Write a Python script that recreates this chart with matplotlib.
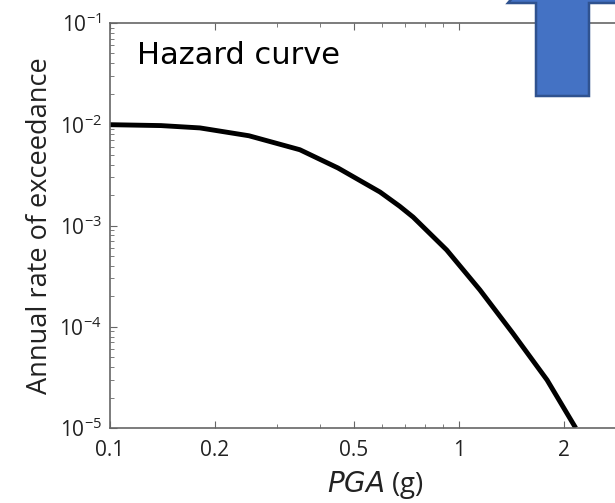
import matplotlib
matplotlib.use("Agg")
from matplotlib import pyplot as plt
from matplotlib import ticker
from matplotlib.patches import Polygon

# hazard curve
pga = [0.1, 0.14, 0.181, 0.25, 0.35, 0.45, 0.594, 0.676, 0.739, 0.922, 1.148, 1.425, 1.788, 2.16]
rate = [0.0099, 0.0097, 0.0092, 0.0077, 0.0056, 0.0037, 0.00214, 0.00155, 0.00121, 0.000573,
        0.000231, 8.67e-5, 2.98e-5, 1.0e-5]

xticks = [0.1, 0.2, 0.5, 1, 2]
xticklabels = ['0.1', '0.2', '0.5', '1', '2']

W, H = 615, 503
fig = plt.figure(figsize=(W/100, H/100), dpi=100)

left, right, top, bottom = 110, 625.5, 23, 428
ax = fig.add_axes([left/W, 1 - bottom/H, (right-left)/W, (bottom-top)/H])

ax.plot(pga, rate, color='black', lw=3.5, solid_capstyle='butt', solid_joinstyle='round')

ax.set_xscale('log')
ax.set_yscale('log')
ax.set_xlim(0.1, 3)
ax.set_ylim(1e-5, 1e-1)

ax.xaxis.set_major_locator(ticker.FixedLocator(xticks))
ax.xaxis.set_major_formatter(ticker.FixedFormatter(xticklabels))
ax.xaxis.set_minor_locator(ticker.LogLocator(subs=range(2, 10)))
ax.xaxis.set_minor_formatter(ticker.NullFormatter())
ax.yaxis.set_major_locator(ticker.LogLocator(numticks=10))
ax.yaxis.set_minor_locator(ticker.LogLocator(subs=range(2, 10), numticks=10))
ax.yaxis.set_minor_formatter(ticker.NullFormatter())

for s in ax.spines.values():
    s.set_color('#666666')
    s.set_linewidth(1.2)

ax.tick_params(which='both', direction='in', top=True, right=True,
               colors='#666666', labelcolor='#222222', labelsize=15)
ax.tick_params(which='major', length=5)
ax.tick_params(which='minor', length=3)
ax.tick_params(axis='x', which='major', pad=9)
ax.tick_params(axis='y', which='major', pad=6)
for lab in ax.get_xticklabels() + ax.get_yticklabels():
    lab.set_family('Open Sans')

ax.set_ylabel('Annual rate of exceedance', fontsize=19.5, family='Open Sans',
              color='#222222', labelpad=4)
fig.text(375/W, 1 - 485/H, r'$\it{PGA}$ (g)', ha='center', va='center',
         fontsize=20, family='Open Sans', color='#222222')

ax.text(137/W, 1 - 55/H, 'Hazard curve', transform=fig.transFigure,
        fontsize=22, family='DejaVu Sans', va='center', ha='left', color='black')

# blue block arrow at top right
pts = [(536, 96), (589, 96), (589, 3), (650, 3), (562, -60), (508, 3), (536, 3)]
arrow = Polygon([(x/W, 1 - y/H) for x, y in pts], closed=True, transform=fig.transFigure,
                facecolor='#4472C4', edgecolor='#2F528F', lw=1.8, clip_on=False)
fig.patches.append(arrow)

plt.savefig('out.png', dpi=100)
